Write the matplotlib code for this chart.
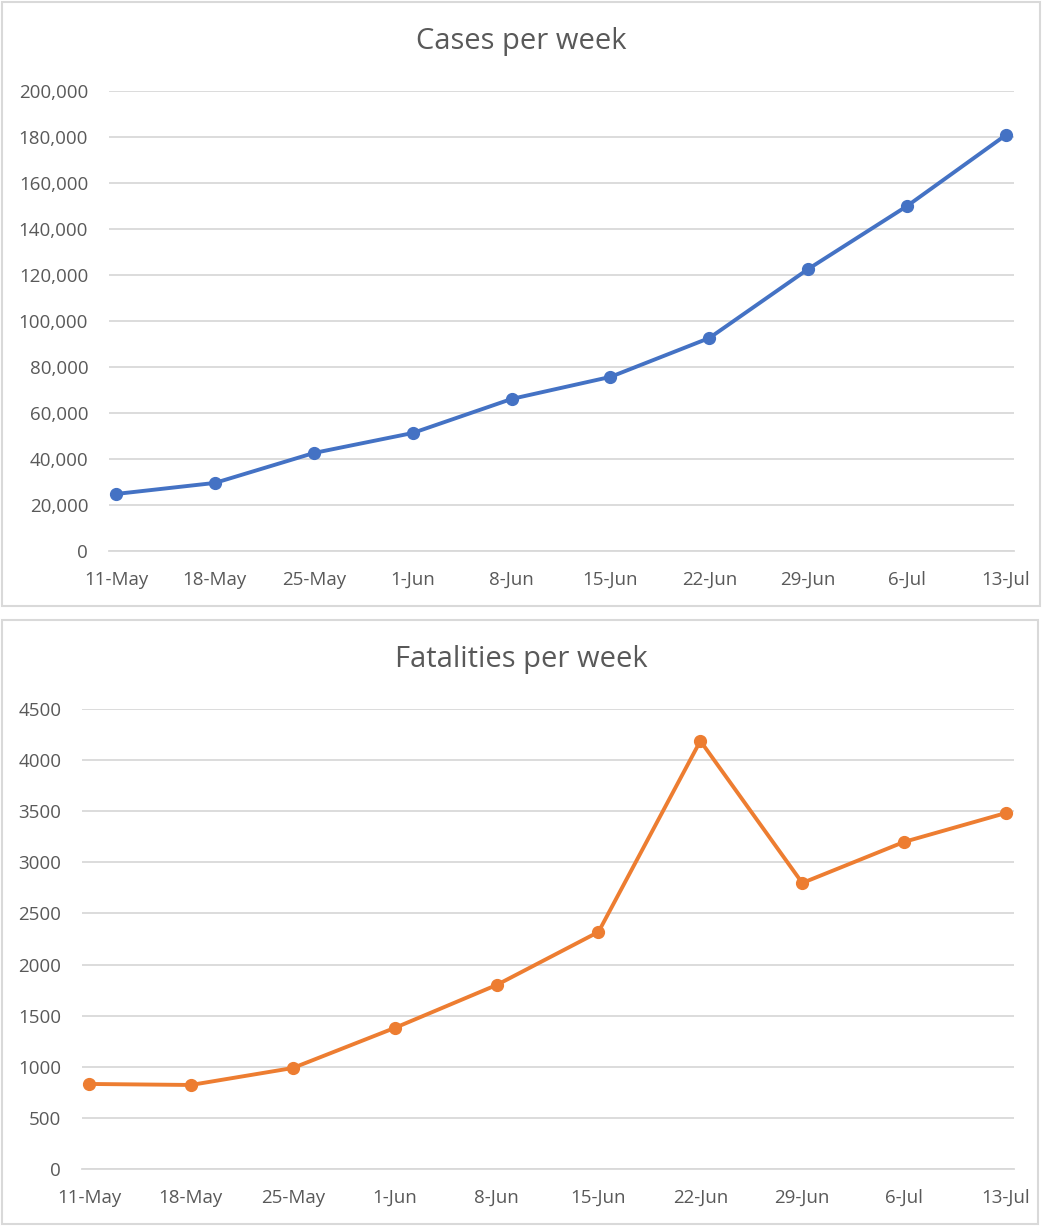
import matplotlib
matplotlib.use("Agg")
import matplotlib.pyplot as plt
from matplotlib.patches import Rectangle
from matplotlib.ticker import FuncFormatter

weeks = ["11-May", "18-May", "25-May", "1-Jun", "8-Jun", "15-Jun",
         "22-Jun", "29-Jun", "6-Jul", "13-Jul"]
cases = [24800, 29600, 42600, 51300, 66100, 75700, 92600, 122600, 150000, 180900]
fatalities = [832, 822, 988, 1380, 1800, 2319, 4188, 2798, 3200, 3483]

W, H = 1044, 1232
text_col = "#595959"
grid_col = "#D9D9D9"

plt.rcParams['font.family'] = ['Open Sans', 'DejaVu Sans']

fig = plt.figure(figsize=(W / 100, H / 100), dpi=100)


def box(x0, y0, x1, y1):
    # pixel coords, y from top
    return [x0 / W, 1 - y1 / H, (x1 - x0) / W, (y1 - y0) / H]


# chart frames
for x0, y0, x1, y1 in [(2, 2, 1040, 606), (2, 620, 1038, 1224)]:
    b = box(x0, y0, x1, y1)
    fig.patches.append(Rectangle((b[0], b[1]), b[2], b[3], transform=fig.transFigure,
                                 fill=False, edgecolor=grid_col, linewidth=1.5))


def draw(ax, values, color, ymax, step, fmt, title, ty):
    x = range(len(values))
    ax.plot(x, values, color=color, linewidth=2.8, marker='o', markersize=8.5,
            markerfacecolor=color, markeredgecolor=color, zorder=3)
    ax.set_ylim(0, ymax)
    ax.set_yticks(range(0, ymax + 1, step))
    ax.yaxis.set_major_formatter(FuncFormatter(fmt))
    ax.set_xticks(list(x))
    ax.set_xticklabels(weeks)
    ax.grid(axis='y', color=grid_col, linewidth=1.3)
    ax.set_axisbelow(True)
    for s in ['top', 'right', 'left']:
        ax.spines[s].set_visible(False)
    ax.spines['bottom'].set_color(grid_col)
    ax.spines['bottom'].set_linewidth(1.3)
    ax.tick_params(axis='both', length=0, labelsize=13.5, labelcolor=text_col)
    ax.tick_params(axis='x', pad=14.5)
    ax.tick_params(axis='y', pad=15)
    fig.text(521 / W, 1 - ty / H, title, ha='center', va='center',
             fontsize=21, color=text_col)


ax1 = fig.add_axes(box(109, 91, 1014, 551))
ax1.set_xlim(-0.071, 9.081)
draw(ax1, cases, "#4472C4", 200000, 20000,
     lambda v, p: f"{int(v):,}", "Cases per week", 42)

ax2 = fig.add_axes(box(82, 709, 1014, 1169))
ax2.set_xlim(-0.069, 9.078)
draw(ax2, fatalities, "#ED7D31", 4500, 500,
     lambda v, p: f"{int(v)}", "Fatalities per week", 660)

fig.savefig("out.png", dpi=100)
